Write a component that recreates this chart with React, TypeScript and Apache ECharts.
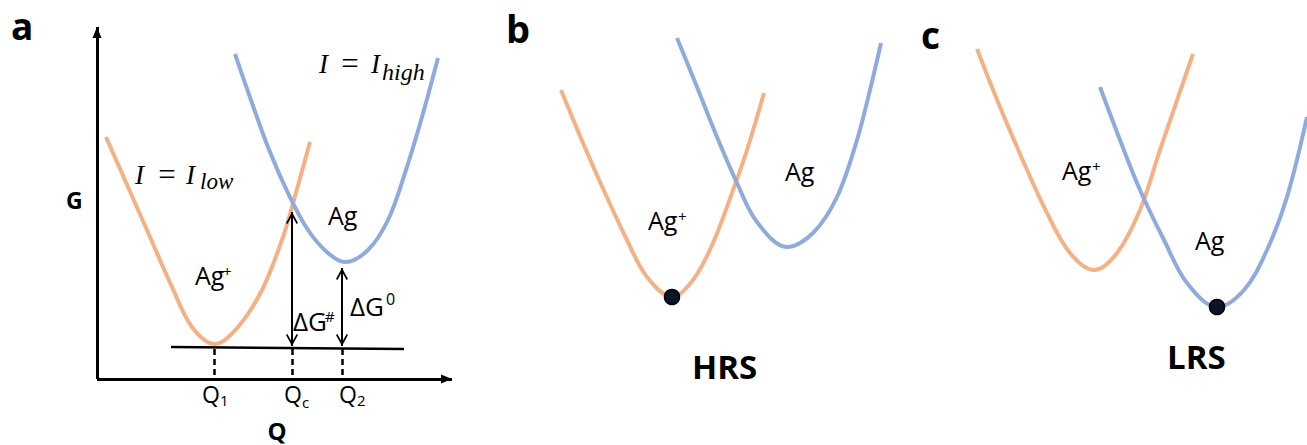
import React, { useEffect, useRef } from "react";
import * as echarts from "echarts";

const W = 1307;
const H = 445;
const ORANGE = "#f4b183";
const BLUE = "#8faadc";

// Curve points, [Q, G] in picture units (G grows downward)
const orangeA = [[106, 137], [128, 187], [150, 237], [172, 287], [192, 327], [215, 344], [238, 327], [262, 290], [282, 240], [292, 207], [310, 142]];
const blueA = [[235, 54], [252, 103], [268, 147], [288, 193], [308, 230], [328, 253], [345, 262], [368, 250], [388, 220], [405, 173], [422, 117], [438, 58]];
const orangeB = [[561, 90], [583, 143], [605, 193], [627, 240], [647, 277], [672, 297], [693, 280], [713, 243], [732, 193], [747, 150], [764, 93]];
const blueB = [[677, 38], [697, 87], [717, 137], [737, 183], [757, 222], [787, 247], [813, 233], [837, 197], [857, 140], [870, 90], [881, 43]];
const orangeC = [[977, 49], [1000, 107], [1024, 163], [1047, 213], [1070, 253], [1094, 270], [1117, 253], [1140, 210], [1160, 150], [1193, 54]];
const blueC = [[1100, 87], [1120, 140], [1140, 190], [1164, 240], [1187, 283], [1217, 307], [1244, 290], [1267, 250], [1287, 197], [1307, 117]];

const stateDotB = [[672, 297]];
const stateDotC = [[1217, 307]];

// Straight lines of panel a
const gAxis = [[97, 379], [97, 27]];
const qAxis = [[97, 379], [452, 379]];
const baseLine = [[171, 347], [404, 349]];
const dashQs = [214, 292, 342];
const dashTop = 349;
const dashBottom = 378;
const arrowDGh = [[292, 346], [292, 212]];
const arrowDG0 = [[342, 346], [342, 268]];

const TRI = "path://M5,0L5,0.01M0,20L5,10L10,20Z";
const CHEV = "path://M6,0L6,0.01M0,23L6,12L12,23L10.6,24L6,15.7L1.4,24Z";

type T = [string, number, number, number, string?, string?, string?, string?];
// text, x, y(center), size, weight, style, family, align
const texts: T[] = [
  ["a", 11, 25, 37, "bold"],
  ["b", 506, 28, 38, "bold"],
  ["c", 921, 34, 37, "bold"],
  ["G", 66, 200, 23, "bold"],
  ["Q", 277, 430, 24, "bold", "normal", '"Open Sans"', "center"],
  ["Q", 202, 394, 23],
  ["1", 220, 400, 15],
  ["Q", 284, 394, 23],
  ["c", 302, 402, 15],
  ["Q", 339, 394, 23],
  ["2", 357, 400, 15],
  ["Ag", 195, 275, 25],
  ["+", 223, 271, 15],
  ["Ag", 328, 215, 25],
  ["ΔG", 293, 321, 26],
  ["#", 325, 316, 15],
  ["ΔG", 350, 306, 26],
  ["0", 386, 299, 16],
  ["Ag", 785, 171, 25],
  ["Ag", 648, 220, 25],
  ["+", 678, 216, 15],
  ["Ag", 1062, 170, 25],
  ["+", 1092, 166, 15],
  ["Ag", 1195, 240, 25],
  ["HRS", 692, 366, 33, "bold"],
  ["LRS", 1167, 356, 33, "bold"],
  ["I", 135, 175, 27, "normal", "italic", '"Liberation Serif"'],
  ["=", 167, 174, 31, "normal", "normal", '"Liberation Serif"', "center"],
  ["I", 186, 175, 27, "normal", "italic", '"Liberation Serif"'],
  ["low", 200, 181, 23, "normal", "italic", '"Liberation Serif"'],
  ["I", 319, 64, 27, "normal", "italic", '"Liberation Serif"'],
  ["=", 350, 63, 31, "normal", "normal", '"Liberation Serif"', "center"],
  ["I", 371, 64, 27, "normal", "italic", '"Liberation Serif"'],
  ["high", 382, 72, 24, "normal", "italic", '"Liberation Serif"'],
];

function seg(p: number[], q: number[], lineStyle: any, s0 = "none", s1 = "none", z0: any = 0, z1: any = 0) {
  return [
    { coord: p, symbol: s0, symbolSize: z0, lineStyle },
    { coord: q, symbol: s1, symbolSize: z1 },
  ];
}

function curve(data: number[][], color: string) {
  return {
    type: "line",
    data,
    smooth: 0.35,
    showSymbol: false,
    symbol: "none",
    silent: true,
    lineStyle: { color, width: 4 },
    z: 3,
  };
}

export default function App() {
  const ref = useRef<HTMLDivElement>(null);
  useEffect(() => {
    document.body.style.margin = "0";
    const chart = echarts.init(ref.current!, null, { renderer: "svg" });
    const solid = (w: number) => ({ color: "#000", width: w, type: "solid" });
    const markData: any[] = [
      seg(gAxis[0], gAxis[1], solid(3), "none", TRI, 0, [9, 22]),
      seg(qAxis[0], qAxis[1], solid(3), "none", TRI, 0, [9, 22]),
      seg(baseLine[0], baseLine[1], solid(2.5)),
      ...dashQs.map((q) => seg([q, dashTop], [q, dashBottom], { color: "#000", width: 2.5, type: [6, 4] })),
      seg(arrowDGh[0], arrowDGh[1], solid(2), CHEV, CHEV, [12, 24], [12, 24]),
      seg(arrowDG0[0], arrowDG0[1], solid(2), CHEV, CHEV, [12, 24], [12, 24]),
    ];
    const option: any = {
      animation: false,
      grid: { left: 0, right: 0, top: 0, bottom: 0 },
      xAxis: { type: "value", min: 0, max: W, show: false },
      yAxis: { type: "value", min: 0, max: H, inverse: true, show: false },
      series: [
        {
          ...curve(orangeA, ORANGE),
          markLine: {
            silent: true,
            animation: false,
            symbol: ["none", "none"],
            label: { show: false },
            emphasis: { disabled: true },
            data: markData,
          },
        },
        curve(blueA, BLUE),
        curve(orangeB, ORANGE),
        curve(blueB, BLUE),
        curve(orangeC, ORANGE),
        curve(blueC, BLUE),
        {
          type: "scatter",
          data: [...stateDotB, ...stateDotC],
          symbolSize: 15,
          silent: true,
          itemStyle: { color: "#0b1528", borderColor: "#000", borderWidth: 1.5, opacity: 1 },
          z: 5,
        },
      ],
      graphic: texts.map(([text, x, y, size, weight = "normal", style = "normal", family = '"Open Sans"', align = "left"]) => ({
        type: "text",
        x,
        y,
        silent: true,
        z: 10,
        style: {
          text,
          fill: "#000",
          font: `${style} ${weight} ${size}px ${family}`,
          textAlign: align,
          textVerticalAlign: "middle",
          align,
          verticalAlign: "middle",
        },
      })),
    };
    chart.setOption(option);
    return () => chart.dispose();
  }, []);
  return <div ref={ref} style={{ width: W, height: H }} />;
}
